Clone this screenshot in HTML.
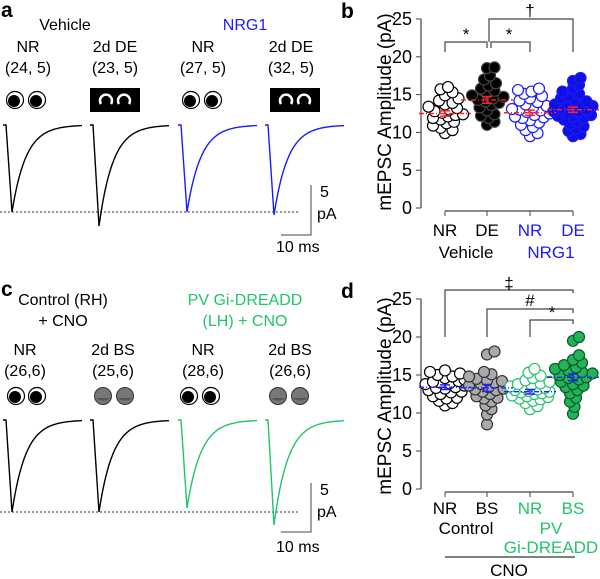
<!DOCTYPE html>
<html><head><meta charset="utf-8"><style>
body{margin:0;background:#fff}
svg{display:block;font-family:"Liberation Sans",Arial,sans-serif}
</style></head><body>
<svg id="fig" width="600" height="579" viewBox="0 0 600 579" xmlns="http://www.w3.org/2000/svg">
<g font-size="16">
<text x="1" y="17" font-weight="bold" font-size="21">a</text>
<text x="65" y="30" text-anchor="middle">Vehicle</text>
<text x="245" y="30" text-anchor="middle" fill="#1a1aff">NRG1</text>
<text x="28" y="52" text-anchor="middle">NR</text><text x="28" y="73" text-anchor="middle">(24, 5)</text>
<text x="115" y="52" text-anchor="middle">2d DE</text><text x="115" y="73" text-anchor="middle">(23, 5)</text>
<text x="203" y="52" text-anchor="middle">NR</text><text x="203" y="73" text-anchor="middle">(27, 5)</text>
<text x="291" y="52" text-anchor="middle">2d DE</text><text x="291" y="73" text-anchor="middle">(32, 5)</text>
<line x1="0" y1="212" x2="298" y2="212" stroke="#333" stroke-dasharray="2,2"/>
<path d="M311 185V235H281" fill="none" stroke="#444"/>
<text x="320" y="197">5</text><text x="317" y="219">pA</text>
<text x="276" y="252">10 ms</text>
</g>
<g font-size="16">
<text x="1" y="296" font-weight="bold" font-size="21">c</text>
<text x="63" y="305" text-anchor="middle">Control (RH)</text>
<text x="63" y="326" text-anchor="middle">+ CNO</text>
<text x="245" y="305" text-anchor="middle" fill="#22c46a">PV Gi-DREADD</text>
<text x="245" y="326" text-anchor="middle" fill="#22c46a">(LH) + CNO</text>
<text x="25" y="355" text-anchor="middle">NR</text><text x="25" y="376" text-anchor="middle">(26,6)</text>
<text x="113" y="355" text-anchor="middle">2d BS</text><text x="113" y="376" text-anchor="middle">(25,6)</text>
<text x="203" y="355" text-anchor="middle">NR</text><text x="203" y="376" text-anchor="middle">(28,6)</text>
<text x="290" y="355" text-anchor="middle">2d BS</text><text x="290" y="376" text-anchor="middle">(26,6)</text>
<line x1="0" y1="512" x2="298" y2="512" stroke="#333" stroke-dasharray="2,2"/>
<path d="M311 483V532H281" fill="none" stroke="#444"/>
<text x="320" y="495">5</text><text x="317" y="517">pA</text>
<text x="276" y="552">10 ms</text>
</g>
<g id="traces"></g><g id="eyes"></g><g id="chartB"></g><g id="chartD"></g>
</svg>
<script>
const NS="http://www.w3.org/2000/svg";
function mk(t,a,p){const e=document.createElementNS(NS,t);for(const k in a)e.setAttribute(k,a[k]);p.appendChild(e);return e;}
const traceStart=[3,90,178,265,3,90,178,265];
const tracePeakY=[212,226,212,215,512,512,508,525];
const traceBase=[125,125,125,125,420,420,420,420];
const traceColor=["#000","#000","#1a1aff","#1a1aff","#000","#000","#22c46a","#22c46a"];
const tg=document.getElementById('traces');
traceStart.forEach((x0,i)=>{
 const b=traceBase[i],p=tracePeakY[i];
 let d=`M${x0} ${b}H${x0+3}L${x0+9} ${p}`;
 for(let t=1;t<=70;t++){d+=`L${x0+9+t} ${(b+(p-b)*Math.exp(-t/14)).toFixed(1)}`;}
 const el=mk('path',{d:d,fill:'none',stroke:traceColor[i],'stroke-width':1.4},tg);
 
 
});
const eg=document.getElementById('eyes');
function openEye(cx,cy,fill){mk('circle',{cx:cx,cy:cy,r:8.5,fill:'#fff',stroke:'#000','stroke-width':1.2},eg);mk('circle',{cx:cx-1,cy:cy+1,r:6,fill:fill},eg);}
function closedPair(x,y){mk('rect',{x:x,y:y,width:50,height:24,fill:'#000'},eg);[x+16,x+34].forEach(c=>mk('path',{d:`M${c-5} ${y+16}A6 6 0 1 1 ${c+5} ${y+16}`,fill:'none',stroke:'#fff','stroke-width':2.5},eg));}
function grayEye(cx,cy){mk('circle',{cx:cx,cy:cy,r:8.5,fill:'#777',stroke:'#333'},eg);mk('path',{d:`M${cx-7} ${cy+2}A8 5 0 0 0 ${cx+7} ${cy+2}`,fill:'#555'},eg);}
openEye(15,100,'#000');openEye(37,100,'#000');closedPair(90,88);openEye(191,100,'#000');openEye(213,100,'#000');closedPair(270,88);
openEye(16,396,'#000');openEye(37,396,'#000');grayEye(103,396);grayEye(125,396);openEye(189,396,'#000');openEye(211,396,'#000');grayEye(278,396);grayEye(300,396);

const catsB=["NR","DE","NR","DE"];
const groupB=["Vehicle","NRG1"];
const bNR=[9.9,10.3,10.6,10.9,11.2,11.4,11.7,11.9,12.1,12.3,12.4,12.6,12.8,13.0,13.2,13.4,13.7,13.9,14.2,14.5,14.9,15.3,15.7,16.0];
const bDE=[11.0,11.4,11.9,12.4,12.9,13.3,13.6,13.9,14.1,14.3,14.5,14.7,14.9,15.2,15.5,15.8,16.2,16.5,17.0,17.5,18.5,18.6,12.2];
const bNRG1NR=[9.5,9.9,10.3,10.7,11.0,11.3,11.6,11.9,12.1,12.3,12.5,12.7,12.9,13.1,13.3,13.5,13.7,14.0,14.2,14.5,14.8,15.1,15.4,15.6,15.8,12.0,13.0];
const bNRG1DE=[9.5,9.8,10.2,10.5,10.8,11.1,11.4,11.7,11.9,12.1,12.3,12.5,12.7,12.9,13.1,13.3,13.5,13.7,13.9,14.1,14.3,14.5,14.8,15.1,15.4,15.8,16.3,16.8,17.2,12.8,13.6,12.2];
const bMeans=[12.5,14.3,12.6,13.0];
const bSEM=[0.35,0.45,0.35,0.35];
const catsD=["NR","BS","NR","BS"];
const dNR=[11.0,11.3,11.6,11.9,12.2,12.5,12.8,13.0,13.2,13.4,13.6,13.8,14.0,14.2,14.4,14.6,14.8,15.0,15.2,15.4,15.6,12.0,13.3,14.1,12.7,13.9];
const dBS=[8.5,9.8,10.5,11.0,11.5,11.9,12.2,12.5,12.8,13.0,13.2,13.4,13.6,13.8,14.0,14.2,14.5,14.8,15.1,15.4,17.7,18.1,12.0,13.1,14.3];
const dGiNR=[10.5,10.9,11.3,11.6,11.9,12.1,12.3,12.5,12.7,12.9,13.0,13.1,13.3,13.5,13.7,13.9,14.1,14.3,14.6,14.9,15.3,15.8,12.2,12.8,13.4,12.6,13.8,11.8];
const dGiBS=[9.9,10.8,11.5,12.0,12.6,13.0,13.4,13.8,14.1,14.4,14.7,15.0,15.2,15.4,15.6,15.8,16.0,16.3,16.6,17.0,17.6,19.5,20.0,14.6,15.1,13.6];
const dMeans=[13.4,13.3,12.8,14.7];
const dSEM=[0.3,0.45,0.3,0.45];
const yTicks=[0,5,10,15,20,25];

function chart(g,y0,y25,series,fills,strokes,means,sems,meanColor,name){
 const axX=421, cx=[445,487,530,573];
 const Y=v=>y0+(y25-y0)*v/25;
 const ax=mk('line',{x1:axX,y1:Y(0),x2:axX,y2:Y(25),stroke:'#444','stroke-width':1.2},g);
 
 yTicks.forEach(t=>{mk('line',{x1:axX-5,y1:Y(t),x2:axX,y2:Y(t),stroke:'#444'},g);
  const tx=mk('text',{x:axX-9,y:Y(t)+6,'text-anchor':'end','font-size':18},g);tx.textContent=t;
  });
 const xa=mk('line',{x1:cx[0],y1:Y(0)+3,x2:cx[3],y2:Y(0)+3,stroke:'#444','stroke-width':1.2},g);
 
 cx.forEach(c=>mk('line',{x1:c,y1:Y(0)+3,x2:c,y2:Y(0)+8,stroke:'#444'},g));
 series.forEach((vals,i)=>{
  const placed=[];const r=5.5;const minD=r*1.25;
  [...vals].sort((a,b)=>a-b).forEach(v=>{
   const py=Y(v);let best=0,bestScore=-1;
   for(let k=0;k<=26;k++){const off=(k%2?1:-1)*Math.ceil(k/2)*1.5;
    const md=placed.reduce((m,p)=>Math.min(m,Math.hypot(p[0]-off,p[1]-py)),99);
    if(md>=minD){best=off;bestScore=99;break;}
    if(md>bestScore){bestScore=md;best=off;}}
   placed.push([best,py]);
   const c=mk('circle',{cx:cx[i]+best,cy:py,r:r,fill:fills[i],stroke:strokes[i],'stroke-width':1.2},g);
   
  });
 });
 means.forEach((m,i)=>{
  const l=mk('line',{x1:cx[i]-26,y1:Y(m),x2:cx[i]+26,y2:Y(m),stroke:meanColor,'stroke-width':1.4,'stroke-dasharray':'5,2,1,2'},g);
  
  mk('path',{d:`M${cx[i]-5} ${Y(m+sems[i])}H${cx[i]+5}M${cx[i]} ${Y(m+sems[i])}V${Y(m-sems[i])}M${cx[i]-5} ${Y(m-sems[i])}H${cx[i]+5}`,stroke:meanColor,'stroke-width':1.5,fill:'none'},g);
 });
 return {cx,Y};
}
const gb=document.getElementById('chartB');
const B=chart(gb,208,19,[bNR,bDE,bNRG1NR,bNRG1DE],['#fff','#000','#fff','#1010e0'],['#000','#444','#1a1aff','#1a1aff'],bMeans,bSEM,'#ff2020','chart-b');
const gd=document.getElementById('chartD');
const D=chart(gd,489,299,[dNR,dBS,dGiNR,dGiBS],['#fff','#aaa','#fff','#22b35a'],['#000','#333','#22c46a','#0a5a25'],dMeans,dSEM,'#2020ff','chart-d');
function txt(g,x,y,s,fill,extra){const t=mk('text',Object.assign({x:x,y:y,'text-anchor':'middle','font-size':17,fill:fill||'#000'},extra||{}),g);t.textContent=s;return t;}
catsB.forEach((c,i)=>{const t=txt(gb,B.cx[i],236,c,i>1?'#1a1aff':'#000');});
txt(gb,466,258,groupB[0]);txt(gb,551,258,groupB[1],'#1a1aff');
const yb=txt(gb,0,0,'mEPSC Amplitude (pA)','#000',{transform:'translate(391,112) rotate(-90)','font-size':19});

txt(gb,341,18,'b','#000',{'font-weight':'bold','font-size':21,'text-anchor':'start'});
mk('path',{d:'M445 52V42H487V48M491 48V42H530V52M489 42V19H573V52',fill:'none',stroke:'#444','stroke-width':1.2},gb);
txt(gb,466,40,'*');txt(gb,509,40,'*');txt(gb,530,16,'†');
catsD.forEach((c,i)=>{const t=txt(gd,D.cx[i],514,c,i>1?'#22c46a':'#000');});
txt(gd,466,534,'Control');txt(gd,551,534,'PV','#22c46a');txt(gd,551,553,'Gi-DREADD','#22c46a');
mk('line',{x1:445,y1:557,x2:575,y2:557,stroke:'#000'},gd);
txt(gd,509,576,'CNO');
const yd=txt(gd,0,0,'mEPSC Amplitude (pA)','#000',{transform:'translate(391,396) rotate(-90)','font-size':19});

txt(gd,341,298,'d','#000',{'font-weight':'bold','font-size':21,'text-anchor':'start'});
mk('path',{d:'M445 337V290H573V293M487 337V309H573V313M530 337V320H573V324',fill:'none',stroke:'#444','stroke-width':1.2},gd);
txt(gd,509,289,'‡');txt(gd,530,306,'#');txt(gd,552,318,'*');
</script>
</body></html>
